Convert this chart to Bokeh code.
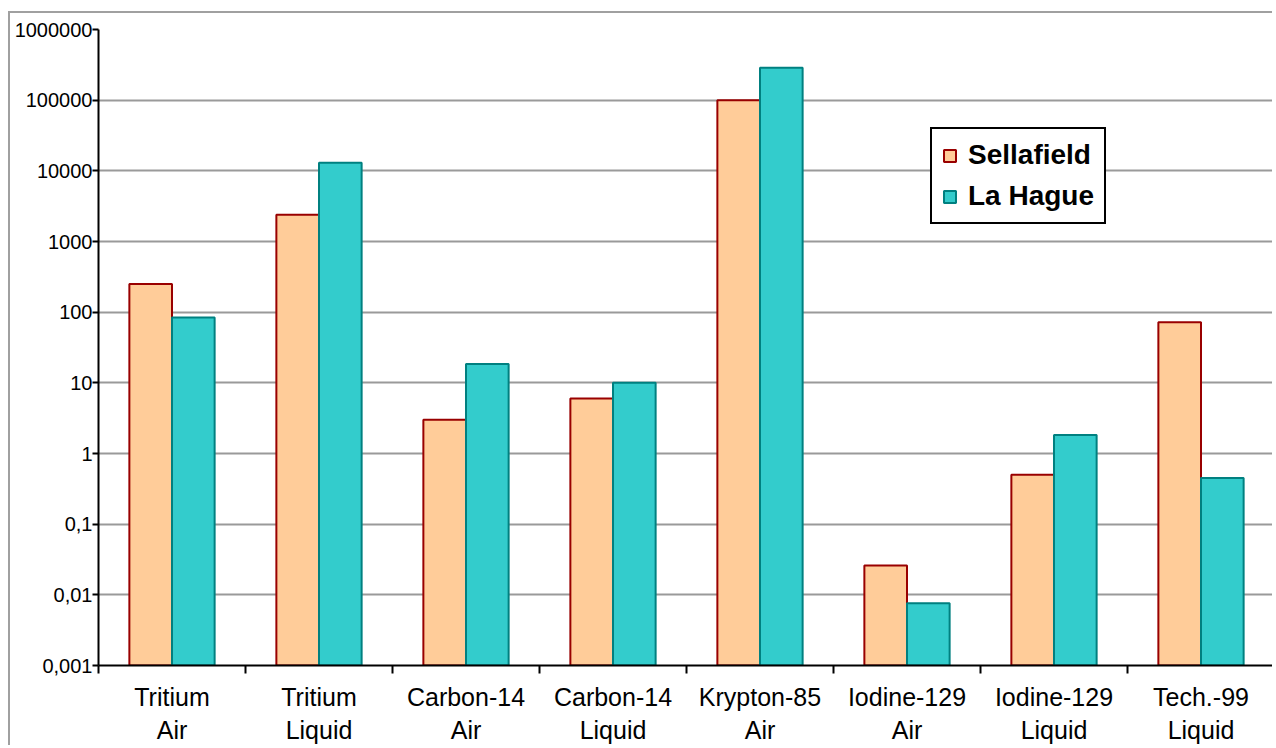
from bokeh.plotting import figure
from bokeh.models import (ColumnDataSource, FixedTicker, LinearAxis, LogAxis, Range1d,
                          Legend, LegendItem, LogScale, Grid)
from bokeh.embed import file_html
from bokeh.resources import INLINE

# ---- data ----
categories = ["Tritium\nAir", "Tritium\nLiquid", "Carbon-14\nAir", "Carbon-14\nLiquid",
              "Krypton-85\nAir", "Iodine-129\nAir", "Iodine-129\nLiquid", "Tech.-99\nLiquid"]
sellafield = [250, 2400, 3.0, 6.0, 100000, 0.026, 0.5, 72]
la_hague = [84, 13000, 18.5, 10, 287000, 0.0076, 1.82, 0.45]
series_names = ["Sellafield", "La Hague"]
y_tick_values = [0.001, 0.01, 0.1, 1, 10, 100, 1000, 10000, 100000, 1000000]
y_tick_labels = ["0,001", "0,01", "0,1", "1", "10", "100", "1000", "10000", "100000", "1000000"]

n = len(categories)
centers = [i + 0.5 for i in range(n)]
boundaries = list(range(n + 1))
bar_w = 0.29
base = y_tick_values[0]

src = ColumnDataSource(dict(
    xs=[c - bar_w / 2 for c in centers],
    xl=[c + bar_w / 2 for c in centers],
    s=sellafield, l=la_hague, b=[base] * n,
))

p = figure(width=1264, height=734, output_backend="svg", toolbar_location=None,
           x_range=Range1d(0, n), y_range=Range1d(y_tick_values[0], y_tick_values[-1]),
           y_axis_type=None, x_axis_type=None,
           min_border_left=88, min_border_right=0, min_border_top=16, min_border_bottom=82)
p.outline_line_color = None
p.background_fill_color = "white"
p.border_fill_color = "white"
p.styles = {"border-left": "2px solid #a0a0a0", "border-top": "2px solid #a0a0a0",
            "margin-left": "8px", "margin-top": "11px"}

# y axis (log)
p.y_scale = LogScale()
yax = LogAxis(ticker=FixedTicker(ticks=y_tick_values, minor_ticks=[]))
yax.major_label_overrides = {v: lab for v, lab in zip(y_tick_values, y_tick_labels)}
yax.axis_line_color = "black"
yax.axis_line_width = 2
yax.major_tick_line_color = "black"
yax.major_tick_line_width = 2
yax.major_tick_out = 6
yax.major_tick_in = 0
yax.major_label_standoff = 0
yax.major_label_text_font = "Liberation Sans"
yax.major_label_text_font_size = "20px"
yax.major_label_text_color = "black"
p.add_layout(yax, "left")

# x axis: labels at category centres, tick marks at boundaries
xax = LinearAxis(ticker=FixedTicker(ticks=centers, minor_ticks=boundaries))
xax.major_label_overrides = {c: lab for c, lab in zip(centers, categories)}
xax.axis_line_color = "black"
xax.axis_line_width = 2
xax.major_tick_line_color = None
xax.major_tick_out = 8
xax.major_tick_in = 0
xax.minor_tick_line_color = "black"
xax.minor_tick_line_width = 2
xax.minor_tick_out = 8
xax.minor_tick_in = 0
xax.major_label_standoff = 9
xax.major_label_text_font = "Liberation Sans"
xax.major_label_text_font_size = "25px"
xax.major_label_text_color = "black"
p.add_layout(xax, "below")

# grid
yg = Grid(dimension=1, ticker=FixedTicker(ticks=y_tick_values))
yg.grid_line_color = "#9a9a9a"
yg.grid_line_width = 2
p.add_layout(yg)

r1 = p.vbar(x="xs", top="s", bottom="b", width=bar_w, source=src,
            fill_color="#FFCC99", line_color="#990000", line_width=2)
r2 = p.vbar(x="xl", top="l", bottom="b", width=bar_w, source=src,
            fill_color="#33CCCC", line_color="#008080", line_width=2)

legend = Legend(items=[LegendItem(label=series_names[0], renderers=[r1]),
                       LegendItem(label=series_names[1], renderers=[r2])],
                location=(832, 441))
legend.label_text_font = "Liberation Sans"
legend.label_text_font_style = "bold"
legend.label_text_font_size = "28px"
legend.label_text_color = "black"
legend.glyph_width = 15
legend.glyph_height = 15
legend.label_standoff = 11
legend.padding = 10
legend.spacing = 9
legend.margin = 0
legend.border_line_color = "black"
legend.border_line_width = 2
legend.border_line_alpha = 1
legend.background_fill_color = "white"
legend.background_fill_alpha = 1
p.add_layout(legend, "center")

open("out.html", "w").write(file_html(p, INLINE))
